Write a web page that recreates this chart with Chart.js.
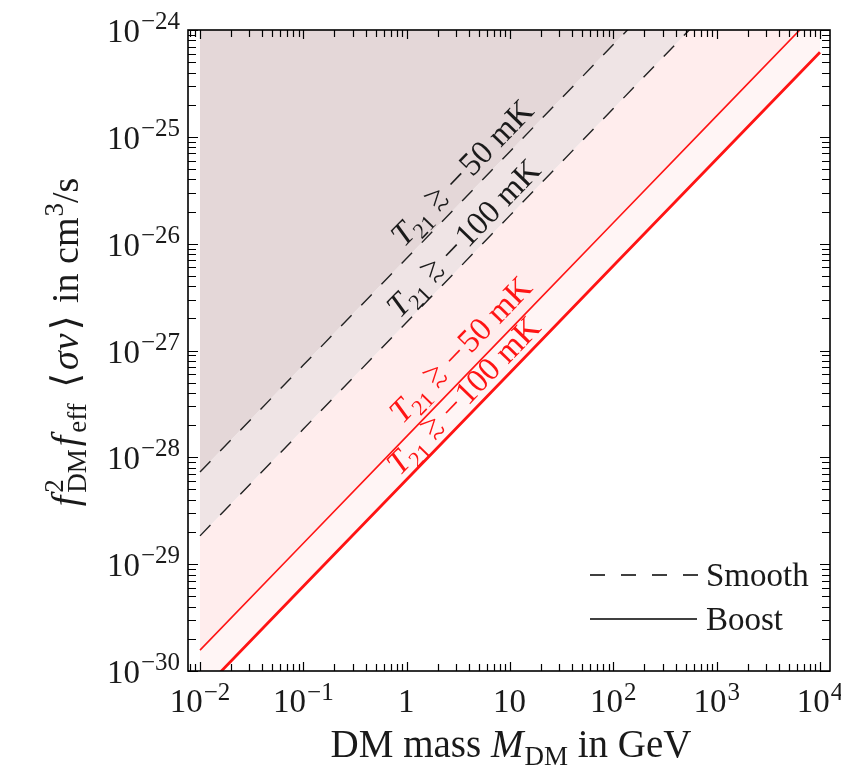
<!DOCTYPE html>
<html>
<head>
<meta charset="utf-8">
<script src="https://cdn.jsdelivr.net/npm/chart.js@4.4.1/dist/chart.umd.min.js"></script>
<style>
  body { margin: 0; background: #fff; }
  #wrap { width: 841px; height: 776px; }
</style>
</head>
<body>
<div id="wrap"><canvas id="c" width="841" height="776"></canvas></div>
<script>
// DM mass in GeV
const masses = [0.01, 0.1, 1, 10, 100, 1000, 10000];

// f_DM^2 f_eff <sigma v> limits in cm^3/s
const smooth50  = [7.3e-29, 7.3e-28, 7.3e-27, 7.3e-26, 7.3e-25, 7.3e-24, 7.3e-23];
const smooth100 = [1.84e-29, 1.84e-28, 1.84e-27, 1.84e-26, 1.84e-25, 1.84e-24, 1.84e-23];
const boost50   = [1.57e-30, 1.57e-29, 1.57e-28, 1.57e-27, 1.57e-26, 1.57e-25, 1.57e-24];
const boost100  = [6.2e-31, 6.2e-30, 6.2e-29, 6.2e-28, 6.2e-27, 6.2e-26, 6.2e-25];

const curveTemps = ['50 mK', '100 mK', '50 mK', '100 mK'];
const legendNames = ['Smooth', 'Boost'];

const xTickValues = [1e-2, 1e-1, 1, 10, 100, 1e3, 1e4];
const xTickLabels = [['10', '\u22122'], ['10', '\u22121'], ['1', ''], ['10', ''], ['10', '2'], ['10', '3'], ['10', '4']];
const yTickValues = [1e-30, 1e-29, 1e-28, 1e-27, 1e-26, 1e-25, 1e-24];
const yTickLabels = [['10', '\u221230'], ['10', '\u221229'], ['10', '\u221228'], ['10', '\u221227'],
                     ['10', '\u221226'], ['10', '\u221225'], ['10', '\u221224']];

const SERIF = "'Liberation Serif', 'DejaVu Serif', serif";
const RED = '#ff1414';

const pts = ys => masses.map((m, i) => ({ x: m, y: ys[i] }));

// draw a run of text pieces (font, baseline shift), returns total width
function runs(ctx, parts, x, y, draw) {
  let cx = x;
  parts.forEach(p => {
    ctx.font = p.font;
    const w = p.w !== undefined ? p.w : ctx.measureText(p.t).width;
    if (draw && p.t) ctx.fillText(p.t, cx + (p.dx || 0), y + (p.dy || 0));
    if (p.adv !== false) cx += w + (p.gap || 0);
  });
  return cx - x;
}

function valueAt(ys, m) {
  for (let i = 0; i < masses.length - 1; i++) {
    if (m >= masses[i] && m <= masses[i + 1]) {
      const t = (Math.log(m) - Math.log(masses[i])) / (Math.log(masses[i + 1]) - Math.log(masses[i]));
      return Math.exp(Math.log(ys[i]) + t * (Math.log(ys[i + 1]) - Math.log(ys[i])));
    }
  }
  return ys[ys.length - 1];
}

const framePlugin = {
  id: 'frame',
  afterDraw(chart) {
    const ctx = chart.ctx;
    const a = chart.chartArea;
    const xs = chart.scales.x, ys = chart.scales.y;
    ctx.save();
    ctx.textBaseline = 'alphabetic';

    // curve labels along the lines: T_21 >~ -XX mK
    const series = [smooth50, smooth100, boost50, boost100];
    const offs = [19, 17, 21, 17];
    const labelMass = 4.7;
    ctx.font = `32px ${SERIF}`;
    const gtW = ctx.measureText('>').width;
    series.forEach((s, i) => {
      const px = xs.getPixelForValue(labelMass), py = ys.getPixelForValue(valueAt(s, labelMass));
      const ang = Math.atan2(ys.getPixelForValue(s[6]) - ys.getPixelForValue(s[0]),
                             xs.getPixelForValue(masses[6]) - xs.getPixelForValue(masses[0]));
      const parts = [
        { t: 'T', font: `italic 33px ${SERIF}`, gap: 0 },
        { t: '21', font: `22px ${SERIF}`, dy: 7, gap: 9 },
        { t: '>', font: `32px ${SERIF}`, dy: -4, adv: false },
        { t: '~', font: `30px ${SERIF}`, dy: 8, dx: 1, w: gtW, gap: 9 },
        { t: '\u2212', font: `33px ${SERIF}`, gap: 3 },
        { t: curveTemps[i], font: `33px ${SERIF}` }
      ];
      ctx.save();
      ctx.translate(px, py);
      ctx.rotate(ang);
      ctx.fillStyle = i < 2 ? '#1a1a1a' : RED;
      const w = runs(ctx, parts, 0, 0, false);
      runs(ctx, parts, -w / 2, -offs[i] + 10, true);
      ctx.restore();
    });

    // legend
    ctx.strokeStyle = '#000';
    ctx.lineWidth = 1.5;
    ctx.setLineDash([15, 16]);
    ctx.beginPath(); ctx.moveTo(590, 575); ctx.lineTo(698, 575); ctx.stroke();
    ctx.setLineDash([]);
    ctx.beginPath(); ctx.moveTo(590, 619); ctx.lineTo(697, 619); ctx.stroke();
    ctx.fillStyle = '#1a1a1a';
    ctx.font = `33px ${SERIF}`;
    ctx.fillText(legendNames[0], 706, 586);
    ctx.fillText(legendNames[1], 706, 630);

    // frame
    ctx.lineWidth = 1.6;
    ctx.strokeStyle = '#000';
    ctx.strokeRect(a.left, a.top, a.right - a.left, a.bottom - a.top);

    // inward ticks on all four sides
    ctx.lineWidth = 1.2;
    ctx.beginPath();
    for (let d = -3; d <= 4; d++) {
      for (let k = 1; k <= 9; k++) {
        const v = k * Math.pow(10, d);
        if (v < xs.min || v > xs.max) continue;
        const p = Math.round(xs.getPixelForValue(v)) + 0.5;
        const len = k === 1 ? 9 : 7;
        ctx.moveTo(p, a.bottom); ctx.lineTo(p, a.bottom - len);
        ctx.moveTo(p, a.top); ctx.lineTo(p, a.top + len);
      }
    }
    for (let d = -30; d <= -24; d++) {
      for (let k = 1; k <= 9; k++) {
        const v = k * Math.pow(10, d);
        if (v < ys.min * 0.999 || v > ys.max * 1.001) continue;
        const p = Math.round(ys.getPixelForValue(v)) + 0.5;
        const len = k === 1 ? 10 : 8;
        ctx.moveTo(a.left, p); ctx.lineTo(a.left + len, p);
        ctx.moveTo(a.right, p); ctx.lineTo(a.right - len, p);
      }
    }
    ctx.stroke();

    // tick labels
    ctx.fillStyle = '#1a1a1a';
    xTickValues.forEach((v, i) => {
      const parts = [
        { t: xTickLabels[i][0], font: `33px ${SERIF}`, gap: 1 },
        { t: xTickLabels[i][1], font: `25px ${SERIF}`, dy: -12 }
      ];
      const w = runs(ctx, parts, 0, 0, false);
      runs(ctx, parts, xs.getPixelForValue(v) - w / 2, 712, true);
    });
    yTickValues.forEach((v, i) => {
      const parts = [
        { t: yTickLabels[i][0], font: `33px ${SERIF}`, gap: 1 },
        { t: yTickLabels[i][1], font: `25px ${SERIF}`, dy: -13 }
      ];
      const w = runs(ctx, parts, 0, 0, false);
      runs(ctx, parts, 180 - w, ys.getPixelForValue(v) + 12, true);
    });

    // axis titles
    const xt = [
      { t: 'DM mass ', font: `39px ${SERIF}` },
      { t: 'M', font: `italic 39px ${SERIF}`, gap: 1 },
      { t: 'DM', font: `27px ${SERIF}`, dy: 8 },
      { t: ' in GeV', font: `39px ${SERIF}` }
    ];
    const xw = runs(ctx, xt, 0, 0, false);
    runs(ctx, xt, 511 - xw / 2, 757, true);

    const yt = [
      { t: 'f', font: `italic 38px ${SERIF}`, gap: 3 },
      { t: '2', font: `27px ${SERIF}`, dy: -15, adv: false },
      { t: 'DM', font: `27px ${SERIF}`, dy: 8, gap: 3 },
      { t: 'f', font: `italic 38px ${SERIF}`, gap: 3 },
      { t: 'eff', font: `27px ${SERIF}`, dy: 8, gap: 6 },
      { t: ' \u27E8', font: `38px ${SERIF}`, gap: 3 },
      { t: '\u03C3', font: `italic 38px ${SERIF}`, gap: 1 },
      { t: 'v', font: `italic 38px ${SERIF}`, gap: 3 },
      { t: '\u27E9', font: `38px ${SERIF}`, gap: 3 },
      { t: ' in cm', font: `38px ${SERIF}`, gap: 1 },
      { t: '3', font: `27px ${SERIF}`, dy: -15 },
      { t: '/s', font: `38px ${SERIF}` }
    ];
    const yw = runs(ctx, yt, 0, 0, false);
    ctx.translate(78, 342);
    ctx.rotate(-Math.PI / 2);
    runs(ctx, yt, -yw / 2, 0, true);
    ctx.restore();
  }
};

new Chart(document.getElementById('c'), {
  type: 'line',
  data: {
    datasets: [
      { data: pts(smooth50), borderColor: '#222', borderWidth: 1.4, borderDash: [15, 14],
        fill: 'end', backgroundColor: '#e4d7d8' },
      { data: pts(smooth100), borderColor: '#222', borderWidth: 1.4, borderDash: [15, 14],
        fill: '-1', backgroundColor: '#efe4e5' },
      { data: pts(boost50), borderColor: RED, borderWidth: 1.6,
        fill: '-1', backgroundColor: '#ffeded' },
      { data: pts(boost100), borderColor: RED, borderWidth: 2.8,
        fill: '-1', backgroundColor: '#fff5f5' }
    ]
  },
  options: {
    responsive: false,
    animation: false,
    devicePixelRatio: 1,
    layout: { padding: { left: 188, top: 30, right: 11, bottom: 105 } },
    elements: { point: { radius: 0 }, line: { tension: 0 } },
    plugins: {
      legend: { display: false },
      tooltip: { enabled: false },
      filler: { drawTime: 'beforeDatasetsDraw' }
    },
    scales: {
      x: { type: 'logarithmic', min: 0.00765, max: 12500, display: false },
      y: { type: 'logarithmic', min: 1e-30, max: 1e-24, display: false }
    }
  },
  plugins: [framePlugin]
});
</script>
</body>
</html>
